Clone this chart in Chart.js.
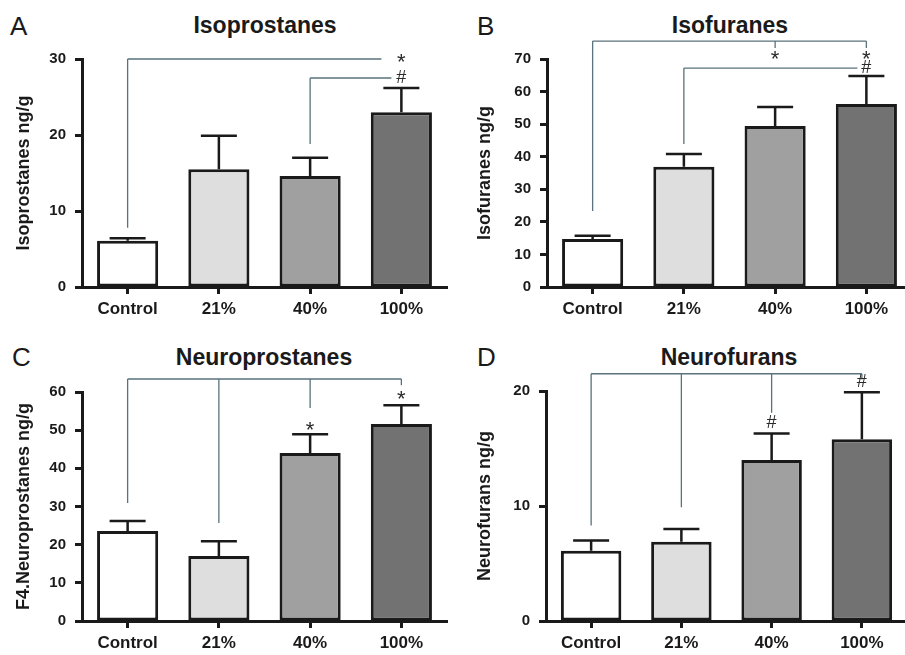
<!DOCTYPE html>
<html>
<head>
<meta charset="utf-8">
<script src="https://cdn.jsdelivr.net/npm/chart.js@4"></script>
<style>
  html, body { margin: 0; padding: 0; background: #fff; overflow: hidden; }
  body { width: 905px; height: 655px; position: relative; font-family: Arial, "Liberation Sans", sans-serif; }
  canvas { position: absolute; }
  .title { position: absolute; font-size: 23px; font-weight: bold; line-height: 1; color: #1a1a1a; transform: translateX(-50%); white-space: nowrap; }
  .letter { position: absolute; font-size: 26px; line-height: 1; color: #1a1a1a; }
</style>
</head>
<body>
<div class="letter" style="left:10px; top:13px;">A</div>
<div class="title" style="left:265px; top:14px;">Isoprostanes</div>
<div class="letter" style="left:477px; top:13px;">B</div>
<div class="title" style="left:730px; top:14px;">Isofuranes</div>
<div class="letter" style="left:12px; top:344px;">C</div>
<div class="title" style="left:264px; top:346px;">Neuroprostanes</div>
<div class="letter" style="left:477px; top:344px;">D</div>
<div class="title" style="left:729px; top:346px;">Neurofurans</div>

<canvas id="chartA" width="452" height="325" style="left:0; top:0;"></canvas>
<canvas id="chartB" width="465" height="325" style="left:450px; top:0;"></canvas>
<canvas id="chartC" width="452" height="330" style="left:0; top:325px;"></canvas>
<canvas id="chartD" width="465" height="330" style="left:450px; top:325px;"></canvas>

<script>
const groups = ['Control', '21%', '40%', '100%'];

const isoprostanes = [6.1, 15.5, 14.6, 23.0];
const isoprostanesSem = [0.3, 4.4, 2.4, 3.2];

const isofuranes = [14.7, 36.9, 49.4, 56.2];
const isofuranesSem = [1.0, 3.9, 5.9, 8.6];

const neuroprostanes = [23.6, 17.0, 44.0, 51.6];
const neuroprostanesSem = [2.6, 3.9, 4.9, 4.9];

const neurofurans = [6.1, 6.9, 14.0, 15.8];
const neurofuransSem = [0.9, 1.1, 2.3, 4.1];

// significance brackets: top level, legs [group index, lower end], marks [group index, level, symbol]
const isoprostanesLegs = [[[0, 7.8]], [[2, 18.8]]];
const isoprostanesTops = [30, 27.5];
const isoprostanesMarks = [[3, 30, '*'], [3, 27.5, '#']];

const isofuranesLegs = [[[0, 23.3], [2, 73.4], [3, 73.4]], [[1, 43.9]]];
const isofuranesTops = [75.5, 67.2];
const isofuranesMarks = [[2, 71, '*'], [3, 71, '*'], [3, 67.2, '#']];

const neuroprostanesLegs = [[[0, 30.9], [1, 25.7], [2, 55.8], [3, 61.8]]];
const neuroprostanesTops = [63.4];
const neuroprostanesMarks = [[2, 50.8, '*'], [3, 58.9, '*']];

const neurofuransLegs = [[[0, 8.3], [1, 9.9], [2, 18.1], [3, 21.0]]];
const neurofuransTops = [21.5];
const neurofuransMarks = [[2, 17.2, '#'], [3, 20.8, '#']];

const barColors = ['#ffffff', '#dedede', '#a0a0a0', '#727272'];
const ink = '#1a1a1a';
const fontFamily = 'Arial, "Liberation Sans", sans-serif';

// error bars (upper only) + bracket lines drawn through the chart scales
function annotPlugin(sem, tops, legs, marks, endGaps) {
    return {
        id: 'annot',
        afterDatasetsDraw(chart) {
            const ctx = chart.ctx;
            const x = chart.scales.x;
            const y = chart.scales.y;
            const values = chart.data.datasets[0].data;
            ctx.save();

            // error bars
            ctx.strokeStyle = ink;
            ctx.lineWidth = 2.5;
            values.forEach(function(v, i) {
                const cx = x.getPixelForValue(i);
                const y0 = y.getPixelForValue(v);
                const y1 = y.getPixelForValue(v + sem[i]);
                ctx.beginPath();
                ctx.moveTo(cx, y0);
                ctx.lineTo(cx, y1);
                ctx.moveTo(cx - 18, y1);
                ctx.lineTo(cx + 18, y1);
                ctx.stroke();
            });

            // brackets
            ctx.strokeStyle = '#5a727c';
            ctx.lineWidth = 1.3;
            tops.forEach(function(top, k) {
                const ty = y.getPixelForValue(top);
                const legList = legs[k];
                const startX = x.getPixelForValue(legList[0][0]);
                const endX = x.getPixelForValue(3) - endGaps[k];
                ctx.beginPath();
                ctx.moveTo(startX, ty);
                ctx.lineTo(endX, ty);
                legList.forEach(function(leg) {
                    const lx = x.getPixelForValue(leg[0]);
                    ctx.moveTo(lx, ty);
                    ctx.lineTo(lx, y.getPixelForValue(leg[1]));
                });
                ctx.stroke();
            });

            // significance symbols
            ctx.fillStyle = '#2a2a2a';
            ctx.textAlign = 'center';
            ctx.textBaseline = 'middle';
            marks.forEach(function(m) {
                ctx.font = (m[2] === '*' ? '22px ' : '18px ') + fontFamily;
                const off = m[2] === '*' ? 4 : 0;
                ctx.fillText(m[2], x.getPixelForValue(m[0]), y.getPixelForValue(m[1]) + off);
            });
            ctx.restore();
        }
    };
}

function makeChart(id, values, sem, yMax, yTitle, pad, yWidth, ann) {
    return new Chart(document.getElementById(id), {
        type: 'bar',
        data: {
            labels: groups,
            datasets: [{
                data: values,
                backgroundColor: barColors,
                borderColor: ink,
                borderWidth: 3,
                borderSkipped: false,
                barPercentage: 0.67,
                categoryPercentage: 1
            }]
        },
        options: {
            responsive: false,
            animation: false,
            layout: { padding: pad },
            plugins: {
                legend: { display: false },
                tooltip: { enabled: false }
            },
            scales: {
                x: {
                    grid: {
                        drawOnChartArea: false,
                        offset: false,
                        tickLength: 7,
                        tickWidth: 3,
                        tickColor: ink
                    },
                    border: { color: ink, width: 3 },
                    ticks: {
                        color: ink,
                        padding: 5,
                        font: { family: fontFamily, size: 17, weight: 'bold' }
                    },
                    afterFit: function(s) { s.height = 32; }
                },
                y: {
                    min: 0,
                    max: yMax,
                    grid: {
                        drawOnChartArea: false,
                        tickLength: 7,
                        tickWidth: 3,
                        tickColor: ink
                    },
                    border: { color: ink, width: 3 },
                    ticks: {
                        stepSize: 10,
                        color: ink,
                        padding: 9,
                        font: { family: fontFamily, size: 15, weight: 'bold' }
                    },
                    title: {
                        display: true,
                        text: yTitle,
                        color: ink,
                        padding: 0,
                        font: { family: fontFamily, size: 18, weight: 'bold' }
                    },
                    afterFit: function(s) { s.width = yWidth; }
                }
            }
        },
        plugins: [ann]
    });
}

makeChart('chartA', isoprostanes, isoprostanesSem, 30, 'Isoprostanes ng/g',
    { left: 13, right: 5, top: 59, bottom: 6 }, 69,
    annotPlugin(isoprostanesSem, isoprostanesTops, isoprostanesLegs, isoprostanesMarks, [20, 10]));

makeChart('chartB', isofuranes, isofuranesSem, 70, 'Isofuranes ng/g',
    { left: 24, right: 3, top: 59, bottom: 6 }, 73,
    annotPlugin(isofuranesSem, isofuranesTops, isofuranesLegs, isofuranesMarks, [0, 9]));

makeChart('chartC', neuroprostanes, neuroprostanesSem, 60, 'F4.Neuroprostanes ng/g',
    { left: 13, right: 5, top: 67, bottom: 2 }, 69,
    annotPlugin(neuroprostanesSem, neuroprostanesTops, neuroprostanesLegs, neuroprostanesMarks, [0]));

makeChart('chartD', neurofurans, neurofuransSem, 20, 'Neurofurans ng/g',
    { left: 24, right: 8, top: 66, bottom: 2 }, 72,
    annotPlugin(neurofuransSem, neurofuransTops, neurofuransLegs, neurofuransMarks, [0]));
</script>
</body>
</html>
